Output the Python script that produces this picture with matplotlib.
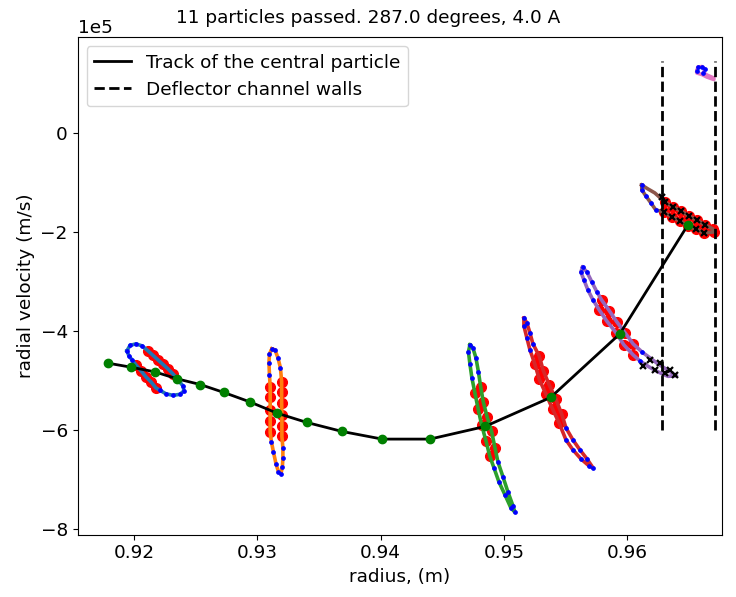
import numpy as np
import matplotlib.pyplot as plt

# --- central particle track (radius m, radial velocity m/s) ---
track_r = [0.91787, 0.91973, 0.92168, 0.92351, 0.92538, 0.92730, 0.92938, 0.93162,
           0.93403, 0.93689, 0.94014, 0.94401, 0.94847, 0.95379, 0.95941, 0.96493]
track_v = [-4.652e5, -4.733e5, -4.828e5, -4.970e5, -5.085e5, -5.246e5, -5.434e5, -5.665e5,
           -5.852e5, -6.034e5, -6.188e5, -6.188e5, -5.933e5, -5.347e5, -4.061e5, -1.859e5]

# --- deflector channel walls ---
wall_r = [0.96282, 0.96712]
wall_v = [-6.0e5, 1.45e5]

# --- bunch outlines: r, v, flag per point
#     b = edge particle (small blue), r = core particle (big red), n = outline only
b0_r = [0.91943, 0.91968, 0.92016, 0.92065, 0.92114, 0.92154, 0.92195, 0.92235,
        0.92276, 0.92316, 0.92357, 0.92397, 0.92406, 0.92373, 0.92316, 0.92260,
        0.92211, 0.92178, 0.92138, 0.92097, 0.92057, 0.92016, 0.91984, 0.91959]
b0_v = [-4.404e5, -4.293e5, -4.263e5, -4.303e5, -4.404e5, -4.495e5, -4.586e5, -4.677e5,
        -4.768e5, -4.869e5, -4.990e5, -5.111e5, -5.212e5, -5.283e5, -5.303e5, -5.273e5,
        -5.202e5, -5.152e5, -5.030e5, -4.929e5, -4.808e5, -4.687e5, -4.586e5, -4.505e5]
b0_f = "bbbbrrrrrrbbbbbbbrrrrrbb"

b1_r = [0.93119, 0.93144, 0.93168, 0.93188, 0.93198, 0.93198, 0.93198, 0.93200,
        0.93200, 0.93200, 0.93208, 0.93208, 0.93204, 0.93192, 0.93172, 0.93152,
        0.93131, 0.93115, 0.93105, 0.93105, 0.93105, 0.93105, 0.93105, 0.93099,
        0.93095, 0.93099]
b1_v = [-4.364e5, -4.384e5, -4.545e5, -4.747e5, -5.024e5, -5.246e5, -5.460e5, -5.697e5,
        -5.919e5, -6.135e5, -6.364e5, -6.566e5, -6.747e5, -6.889e5, -6.848e5, -6.687e5,
        -6.444e5, -6.242e5, -6.054e5, -5.832e5, -5.596e5, -5.347e5, -5.125e5, -4.889e5,
        -4.646e5, -4.465e5]
b1_f = "bbbbrrrrrrbbbbbbbbrrrrrbbb"

b2_r = [0.94725, 0.94749, 0.94774, 0.94794, 0.94812, 0.94833, 0.94865, 0.94901,
        0.94928, 0.94952, 0.94993, 0.95033, 0.95074, 0.95090, 0.95057, 0.95009,
        0.94960, 0.94920, 0.94887, 0.94855, 0.94820, 0.94792, 0.94766, 0.94741,
        0.94725, 0.94713]
b2_v = [-4.283e5, -4.343e5, -4.545e5, -4.828e5, -5.125e5, -5.428e5, -5.743e5, -6.034e5,
        -6.358e5, -6.646e5, -6.949e5, -7.253e5, -7.535e5, -7.667e5, -7.576e5, -7.313e5,
        -7.051e5, -6.768e5, -6.539e5, -6.222e5, -5.899e5, -5.582e5, -5.259e5, -4.949e5,
        -4.667e5, -4.424e5]
b2_f = "bbbbrrrrrbbbbbbbbbrrrrrbbb"

b3_r = [0.95163, 0.95187, 0.95212, 0.95236, 0.95287, 0.95320, 0.95368, 0.95422,
        0.95469, 0.95504, 0.95560, 0.95617, 0.95674, 0.95725, 0.95690, 0.95625,
        0.95560, 0.95504, 0.95449, 0.95396, 0.95341, 0.95287, 0.95252, 0.95212,
        0.95187, 0.95163]
b3_v = [-3.743e5, -3.838e5, -4.040e5, -4.263e5, -4.505e5, -4.802e5, -5.091e5, -5.380e5,
        -5.677e5, -5.960e5, -6.202e5, -6.404e5, -6.586e5, -6.774e5, -6.727e5, -6.586e5,
        -6.404e5, -6.202e5, -5.865e5, -5.582e5, -5.273e5, -4.976e5, -4.673e5, -4.384e5,
        -4.141e5, -3.899e5]
b3_f = "bbbbrrrrrbbbbbbbbbrrrrrbbb"

b4_r = [0.95639, 0.95674, 0.95714, 0.95755, 0.95793, 0.95855, 0.95915, 0.95982,
        0.96049, 0.96120, 0.96185, 0.96250, 0.96314, 0.96401, 0.96331, 0.96250,
        0.96177, 0.96104, 0.96049, 0.95974, 0.95909, 0.95834, 0.95774, 0.95723,
        0.95682, 0.95650, 0.95625]
b4_v = [-2.713e5, -2.808e5, -3.010e5, -3.212e5, -3.374e5, -3.590e5, -3.812e5, -4.034e5,
        -4.263e5, -4.424e5, -4.545e5, -4.667e5, -4.768e5, -4.909e5, -4.919e5, -4.828e5,
        -4.727e5, -4.606e5, -4.485e5, -4.283e5, -4.034e5, -3.798e5, -3.576e5, -3.374e5,
        -3.172e5, -2.970e5, -2.808e5]
b4_f = "bbbbrrrrrbnnnnnnnbrrrrrbbbb"

b5_r = [0.96118, 0.96169, 0.96225, 0.96306, 0.96371, 0.96436, 0.96501, 0.96566,
        0.96631, 0.96696, 0.96704, 0.96623, 0.96558, 0.96493, 0.96428, 0.96363,
        0.96298, 0.96233, 0.96193, 0.96152, 0.96120]
b5_v = [-1.051e5, -1.131e5, -1.212e5, -1.394e5, -1.495e5, -1.576e5, -1.677e5, -1.758e5,
        -1.859e5, -1.939e5, -2.000e5, -2.020e5, -1.939e5, -1.879e5, -1.778e5, -1.697e5,
        -1.596e5, -1.556e5, -1.414e5, -1.273e5, -1.152e5]
b5_f = "bnnrrrrrrrrrrrrrrbbbb"

b6_r = [0.96566, 0.96574, 0.96607, 0.96631, 0.96619, 0.96647, 0.96704, 0.96704,
        0.96647, 0.96607, 0.96566]
b6_v = [1.253e5, 1.333e5, 1.343e5, 1.293e5, 1.222e5, 1.172e5, 1.111e5, 1.081e5,
        1.131e5, 1.182e5, 1.212e5]
b6_f = "bbbbbnnnnnn"

# particles that entered the channel
pass4_r = [0.96131, 0.96185, 0.96225, 0.96266, 0.96307, 0.96347, 0.96387]
pass4_v = [-4.72e5, -4.59e5, -4.79e5, -4.65e5, -4.85e5, -4.79e5, -4.89e5]
pass5_r = [0.96282, 0.96306, 0.96371, 0.96436, 0.96501, 0.96566, 0.96631,
           0.96298, 0.96363, 0.96428, 0.96493, 0.96558, 0.96623]
pass5_v = [-1.29e5, -1.394e5, -1.495e5, -1.576e5, -1.677e5, -1.758e5, -1.859e5,
           -1.596e5, -1.697e5, -1.778e5, -1.879e5, -1.939e5, -2.020e5]

bunches = [(b0_r, b0_v, b0_f), (b1_r, b1_v, b1_f), (b2_r, b2_v, b2_f), (b3_r, b3_v, b3_f),
           (b4_r, b4_v, b4_f), (b5_r, b5_v, b5_f), (b6_r, b6_v, b6_f)]

plt.rcParams['font.size'] = 13.3
fig = plt.figure(figsize=(7.36, 5.97), dpi=100)
ax = fig.add_axes([0.1053, 0.1044, 0.8757, 0.8336])

for i, (r, v, f) in enumerate(bunches):
    r = np.array(r)
    v = np.array(v)
    core = np.array([c == 'r' for c in f])
    edge = np.array([c == 'b' for c in f])
    ax.plot(r[core], v[core], 'o', color='red', ms=7, zorder=2)
    ax.plot(np.append(r, r[0]), np.append(v, v[0]), color='C%d' % i, lw=2.6, zorder=3)
    ax.plot(r[edge], v[edge], 'o', color='blue', ms=2.4, zorder=4)

ax.plot(pass4_r, pass4_v, 'x', color='black', ms=5, mew=1.6, zorder=5)
ax.plot(pass5_r, pass5_v, 'x', color='black', ms=5, mew=1.6, zorder=5)

ax.plot(track_r, track_v, color='black', lw=2, zorder=6,
        label='Track of the central particle')
ax.plot(track_r, track_v, 'o', color='green', ms=6, zorder=7)

ax.plot([wall_r[0], wall_r[0]], wall_v, '--', color='black', lw=2, zorder=6,
        label='Deflector channel walls')
ax.plot([wall_r[1], wall_r[1]], wall_v, '--', color='black', lw=2, zorder=6)

ax.set_xlim(0.91542, 0.9677)
ax.set_ylim(-8.12e5, 1.94e5)
ax.ticklabel_format(axis='y', style='sci', scilimits=(5, 5))
ax.set_xlabel('radius, (m)')
ax.set_ylabel('radial velocity (m/s)')
fig.text(0.5, 0.962, '11 particles passed. 287.0 degrees, 4.0 A', ha='center', va='baseline')
ax.legend(loc='upper left')

fig.savefig('out.png', dpi=100)
